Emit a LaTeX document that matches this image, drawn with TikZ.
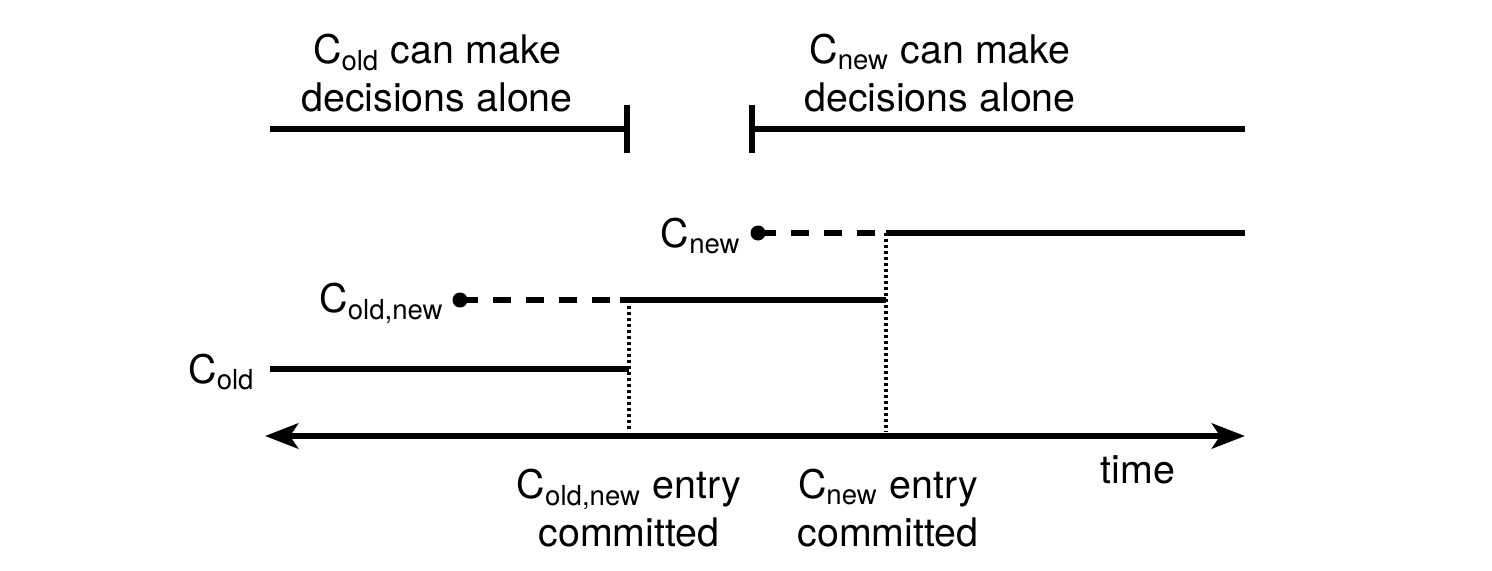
\documentclass[tikz,border=0pt]{standalone}
\usepackage{fontspec}
\setmainfont{TeX Gyre Heros}
\usetikzlibrary{arrows.meta}
\newcommand{\cfg}[1]{C\textsubscript{#1}}

\begin{document}
\begin{tikzpicture}[x=0.01cm,y=-0.01cm,
    font=\fontsize{11.2}{13.7}\selectfont,
    every node/.style={align=center,inner sep=0pt},
    line/.style={line width=1.7pt},
    pending/.style={line width=1.7pt,dash pattern=on 0.18cm off 0.15cm},
    guide/.style={line width=1pt,dash pattern=on 0.03cm off 0.03cm},
    start/.style={circle,fill,minimum size=0.15cm},
    endtick/.tip={Bar[width=0.48cm]},
    timetip/.tip={Stealth[length=0.33cm,width=0.25cm,inset=0.08cm]}]
\useasboundingbox (0,0) rectangle (1492,570);

\node (oldalone) at (437,73) {\cfg{old} can make\\decisions alone};
\node (newalone) at (940,73) {\cfg{new} can make\\decisions alone};
\draw[line,-endtick] (270,129) coordinate (oldA) -- (630,129) coordinate (oldB);
\draw[line,endtick-] (749,129) coordinate (newA) -- (1245,129) coordinate (newB);

\node[start] (newdot) at (758,233) {};
\node[anchor=east] (newlbl) at (742,236) {\cfg{new}};
\coordinate (newc) at (886,233);
\coordinate (newend) at (1245,233);
\draw[pending] (newdot.center) -- (newc);
\draw[line] (newc) -- (newend);

\node[start] (bothdot) at (460,300) {};
\node[anchor=east] (bothlbl) at (445,303) {\cfg{old,new}};
\coordinate (bothc) at (620,300);
\coordinate (bothend) at (886,300);
\draw[pending] (bothdot.center) -- (bothc);
\draw[line] (bothc) -- (bothend);

\node[anchor=east] (oldlbl) at (256,372) {\cfg{old}};
\coordinate (oldstart) at (270,369);
\coordinate (oldend) at (629,369);
\draw[line] (oldstart) -- (oldend);

\coordinate (tL) at (265,436);
\coordinate (tR) at (1245,436);
\draw[line width=1.9pt,timetip-timetip] (tL) -- (tR);
\coordinate (commitA) at (629,432);
\coordinate (commitB) at (886,432);
\draw[guide] (629,300) -- (commitA);
\draw[guide] (newc) -- (commitB);

\node (bothentry) at (629,508) {\cfg{old,new} entry\\committed};
\node (newentry) at (888,508) {\cfg{new} entry\\committed};
\node (time) at (1138,470) {time};
\end{tikzpicture}
\end{document}
